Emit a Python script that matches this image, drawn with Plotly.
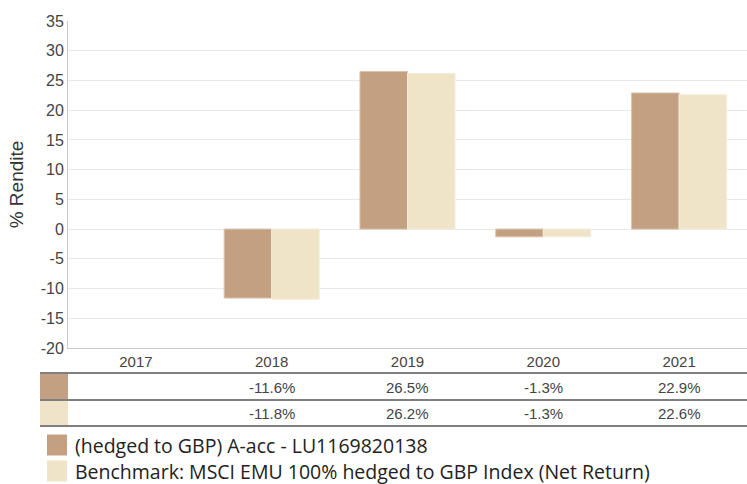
import plotly.graph_objects as go

years = ["2017", "2018", "2019", "2020", "2021"]
fund = [None, -11.6, 26.5, -1.3, 22.9]
bench = [None, -11.8, 26.2, -1.3, 22.6]
fund_name = "(hedged to GBP) A-acc - LU1169820138"
bench_name = "Benchmark: MSCI EMU 100% hedged to GBP Index (Net Return)"
fund_color = "#C4A082"
bench_color = "#EFE3C8"
yticks = [-20, -15, -10, -5, 0, 5, 10, 15, 20, 25, 30, 35]

W, H = 747, 484
def py(p):  # pixel y -> paper y
    return 1 - p / H
def px(p):
    return p / W

fig = go.Figure()
fig.add_bar(x=years, y=fund, name=fund_name, marker=dict(color=fund_color, line=dict(color="#D9C2AE", width=1)))
fig.add_bar(x=years, y=bench, name=bench_name, marker=dict(color=bench_color, line=dict(color="#F5EDDC", width=1)))

shapes = []
annotations = []
# table lines
for yy in [373, 400, 426]:
    shapes.append(dict(type="line", xref="paper", yref="paper", x0=px(40), x1=1, y0=py(yy), y1=py(yy),
                       line=dict(color="#555555", width=1.5)))
# table swatches
shapes.append(dict(type="rect", xref="paper", yref="paper", x0=px(40), x1=px(68), y0=py(399), y1=py(374),
                   fillcolor=fund_color, line=dict(width=0)))
shapes.append(dict(type="rect", xref="paper", yref="paper", x0=px(40), x1=px(68), y0=py(425), y1=py(401),
                   fillcolor=bench_color, line=dict(width=0)))
# table values
for series, yc in [(fund, 387), (bench, 413)]:
    for i, v in enumerate(series):
        if v is None:
            continue
        annotations.append(dict(x=i, xref="x", y=py(yc), yref="paper", text=f"{v:.1f}%", showarrow=False,
                                font=dict(family="Liberation Sans, Arial", size=15, color="#444444"),
                                xanchor="center", yanchor="middle"))
# legend
for name, color, yc in [(fund_name, fund_color, 445), (bench_name, bench_color, 471)]:
    shapes.append(dict(type="rect", xref="paper", yref="paper", x0=px(47), x1=px(67), y0=py(yc + 10.5), y1=py(yc - 10.5),
                       fillcolor=color, line=dict(width=0)))
    annotations.append(dict(x=px(73), xref="paper", y=py(yc), yref="paper", text=name, showarrow=False,
                            font=dict(family="Open Sans, Noto Sans", size=19.5, color="#222222"),
                            xanchor="left", yanchor="middle"))

fig.update_layout(
    width=W, height=H,
    margin=dict(l=0, r=0, t=0, b=0),
    paper_bgcolor="white", plot_bgcolor="white",
    barmode="group", bargap=0.3, bargroupgap=0.0,
    showlegend=False,
    shapes=shapes, annotations=annotations,
    xaxis=dict(domain=[px(68), 1], range=[-0.5, 4.5], showgrid=False, showline=True, linecolor="#c8c8c8",
               linewidth=1, ticks="", tickfont=dict(family="Liberation Sans, Arial", size=15, color="#444444"),
               anchor="y", automargin=False, ticklabelstandoff=0),
    yaxis=dict(domain=[py(348), py(21)], range=[-20, 35], tickvals=yticks, ticktext=[str(t) for t in yticks],
               showgrid=True, gridcolor="#e8e8e8", automargin=False,
               gridwidth=1, zeroline=False, showline=True, linecolor="#c8c8c8", linewidth=1,
               tickfont=dict(family="Liberation Sans, Arial", size=16, color="#444444"), ticks="",
               title=dict(text="% Rendite", font=dict(family="Liberation Sans, Arial", size=19, color="#333333"),
                          standoff=12)),
)
fig.write_html("out.html", config={"displayModeBar": False},
               post_script="document.body.style.margin='0';document.body.style.overflow='hidden';")
